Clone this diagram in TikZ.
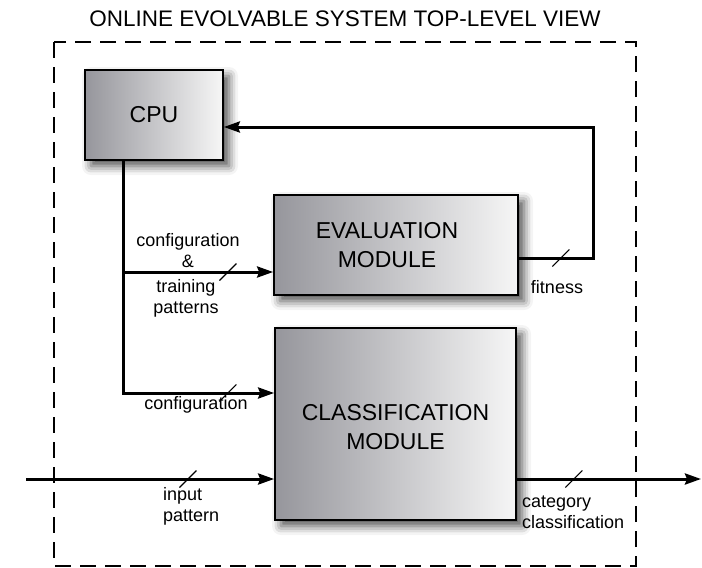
\documentclass[tikz,border=0pt]{standalone}
\usepackage{fontspec}
\setmainfont{Liberation Sans}
\usetikzlibrary{arrows.meta,shadows.blur,decorations.markings}

\definecolor{boxdark}{RGB}{150,150,156}
\definecolor{boxlight}{RGB}{246,246,246}

\tikzset{
  box/.style={draw=black, line width=1.7pt, left color=boxdark, right color=boxlight,
    blur shadow={shadow xshift=6pt, shadow yshift=-6pt, shadow blur radius=9pt, shadow opacity=70},
    font=\fontsize{23}{29}\selectfont, align=center, inner sep=0pt},
  sig/.style={line width=3pt, -{Stealth[length=16pt,width=11pt,inset=2pt]}},
  bus/.style={postaction={decorate,decoration={markings,
    mark=at position #1 with {\draw[line width=1.2pt,-] (-8.5pt,-8.5pt) -- (8.5pt,8.5pt);}}}},
  lbl/.style={font=\fontsize{18}{21}\selectfont, align=center, inner sep=0pt},
}

\begin{document}
\begin{tikzpicture}[x=1pt,y=-1pt]
    \useasboundingbox (0,0) rectangle (702,568);
    % 枠
    \node[font=\fontsize{22.5}{26}\selectfont] (title) at (345,19) {ONLINE EVOLVABLE SYSTEM TOP-LEVEL VIEW};
    \draw[line width=1.8pt, dash pattern=on 16pt off 9pt] (54,42) rectangle (636,566);
    % ブロック
    \node[box, minimum width=138pt, minimum height=90pt] (cpu) at (154,115) {CPU};
    \node[box, minimum width=244pt, minimum height=100pt] (eval) at (396,245) {\hspace*{-18pt}EVALUATION\\\hspace*{-18pt}MODULE};
    \node[box, minimum width=241pt, minimum height=192pt] (cls) at (395.5,424)
      {\raisebox{-11pt}[0pt][0pt]{\begin{tabular}{@{}c@{}}CLASSIFICATION\\MODULE\end{tabular}}};
    % 接続点
    \coordinate (cpuout) at ([xshift=-31pt]cpu.south);
    \coordinate (evin) at ([yshift=-27pt]eval.west);
    \coordinate (clsin) at ([yshift=31pt]cls.west);
    \coordinate (in) at (26,479);
    \coordinate (out) at (701,479);
    % 信号線
    \draw[sig, bus=337pt] (cpuout) |- (clsin);
    \draw[sig, bus=105pt] (cpuout |- evin) -- (evin);
    \draw[sig, bus=42pt] ([yshift=-13pt]eval.east) -- ++(75,0) |- ([yshift=-12pt]cpu.east);
    \draw[sig, bus=162pt] (in) -- (cls.west |- in);
    \draw[sig, bus=57pt] (cls.east |- out) -- (out);
    % ラベル
    \node[lbl] (cfgtop) at (188,251) {configuration\\\&};
    \node[lbl] (cfgbot) at (186,298) {training\\patterns};
    \node[lbl] (cfg) at (196,405) {configuration};
    \node[lbl] (fit) at (557,287) {fitness};
    \node[lbl, anchor=west, align=left] (inpat) at (163,506) {input\\pattern};
    \node[lbl, anchor=west, align=left] (cat) at (522,512) {category\\classification};
\end{tikzpicture}
\end{document}
